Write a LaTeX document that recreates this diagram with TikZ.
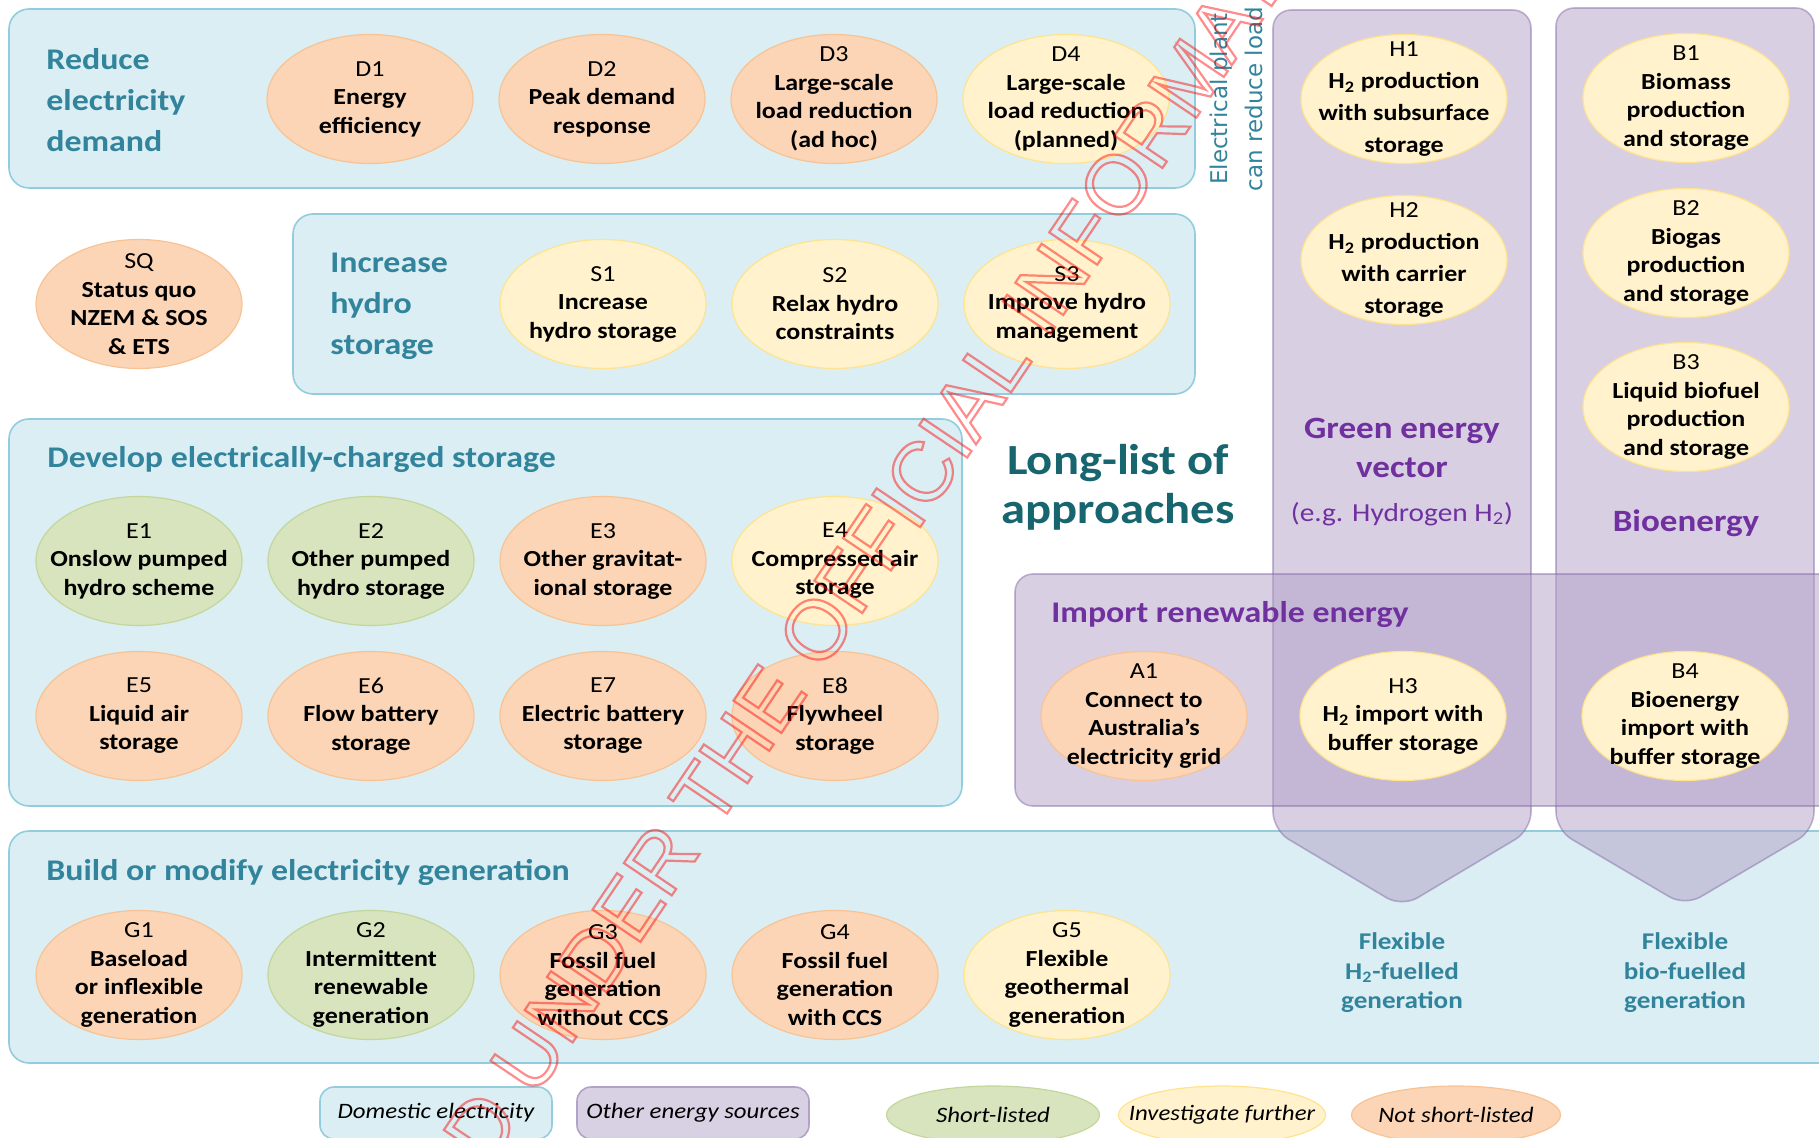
\documentclass[tikz,border=0pt]{standalone}
\usepackage{fontspec}
\setmainfont{Carlito}[FakeStretch=1.13]
\newfontfamily\plantfont{DejaVu Sans}
\newfontfamily\stampfont{Liberation Sans}
\usepackage{tikz}
\usetikzlibrary{shapes.geometric}
\definecolor{domfill}{HTML}{DAEEF3}
\definecolor{domline}{HTML}{93CDDD}
\definecolor{othfill}{HTML}{B1A0C7}
\definecolor{othline}{HTML}{8064A2}
\definecolor{othkey}{HTML}{D8D0E3}
\definecolor{othkeyline}{HTML}{B3A2C7}
\definecolor{headteal}{HTML}{31849B}
\definecolor{darkteal}{HTML}{17656F}
\definecolor{purpletxt}{HTML}{7030A0}
\definecolor{peachfill}{HTML}{FBD5B5}
\definecolor{peachline}{HTML}{F8C394}
\definecolor{yellowfill}{HTML}{FFF2CC}
\definecolor{yellowline}{HTML}{FFE38F}
\definecolor{greenfill}{HTML}{D7E4BD}
\definecolor{greenline}{HTML}{C3D69B}
\tikzset{
  elecbox/.style={fill=domfill, draw=domline, line width=0.8pt, rounded corners=10pt},
  otherbox/.style={fill=othfill, draw=othline, fill opacity=0.5, draw opacity=0.45, line width=0.8pt, rounded corners=9pt},
  opt/.style={ellipse, minimum width=103pt, minimum height=64.5pt, inner sep=0pt, line width=0.6pt},
  notsl/.style={opt, fill=peachfill, draw=peachline},
  invest/.style={opt, fill=yellowfill, draw=yellowline},
  shortl/.style={opt, fill=greenfill, draw=greenline},
  optext/.style={align=center, inner sep=0pt, font=\fontsize{11.5}{14.25}\selectfont\bfseries},
  optexth/.style={optext, font=\fontsize{11.5}{16}\selectfont\bfseries},
  hdr/.style={anchor=west, align=left, inner sep=0pt, text=headteal, font=\fontsize{15}{20.5}\selectfont\bfseries},
  vechdr/.style={align=center, inner sep=0pt, text=purpletxt, font=\fontsize{15.5}{19.5}\selectfont\bfseries},
  flexgen/.style={align=center, inner sep=0pt, text=headteal, font=\fontsize{12}{14.75}\selectfont\bfseries},
  keytext/.style={inner sep=0pt, font=\fontsize{11}{13}\selectfont\itshape},
  keybox/.style={minimum width=116pt, minimum height=26pt, inner sep=0pt, line width=0.8pt, rounded corners=7pt, font=\fontsize{11}{13}\selectfont\itshape}
}
\begin{document}
\begin{tikzpicture}[x=0.5pt, y=-0.5pt]
  \useasboundingbox (0,0) rectangle (1819,1138);
  \clip (0,0) rectangle (1819,1138);
  \draw[elecbox] (9,9) rectangle (1195,188);
  \draw[elecbox] (293,214) rectangle (1195,394);
  \draw[elecbox] (9,419) rectangle (962,806);
  \draw[elecbox] (9,831) rectangle (1860,1063);
  \draw[otherbox] (1273,830) -- (1273,10) -- (1531,10) -- (1531,830) -- (1402,907) -- cycle;
  \draw[otherbox] (1556,830) -- (1556,8) -- (1814,8) -- (1814,830) -- (1685,906) -- cycle;
  \draw[otherbox] (1015,574) rectangle (1860,806);

  \node[hdr] (reduce) at (46,100) {Reduce\\electricity\\demand};
  \node[hdr] (hydro) at (330,306) {Increase\\hydro\\storage};
  \node[hdr] (develop) at (47,460) {Develop electrically-charged storage};
  \node[hdr] (build) at (46,872) {Build or modify electricity generation};
  \node[hdr, text=purpletxt] (import) at (1051,615) {Import renewable energy};
  \node[align=center, inner sep=0pt, text=darkteal, font=\fontsize{21.5}{24.5}\selectfont\bfseries] (longlist) at (1118,487) {Long-list of\\approaches};
  \node[rotate=90, align=center, inner sep=0pt, text=headteal, font=\plantfont\fontsize{11.5}{17.5}\selectfont] (plant) at (1236,99) {Electrical plant\\can reduce load};
  \node[vechdr] (vector) at (1402,448) {Green energy\\vector};
  \node[inner sep=0pt, text=purpletxt, font=\fontsize{13}{15}\selectfont] (example) at (1402,514) {(e.g. Hydrogen H\textsubscript{2})};
  \node[vechdr] (bioenergy) at (1686,523) {Bioenergy};
  \node[flexgen] (flexh) at (1402,973) {Flexible\\H\textsubscript{2}-fuelled\\generation};
  \node[flexgen] (flexb) at (1685,973) {Flexible\\bio-fuelled\\generation};

  \node[notsl, label={[optext]center:{\mdseries D1}\\Energy\\efficiency}] (D1) at (370,99) {};
  \node[notsl, label={[optext]center:{\mdseries D2}\\Peak demand\\response}] (D2) at (602,99) {};
  \node[notsl, label={[optext]center:{\mdseries D3}\\Large-scale\\load reduction\\(ad hoc)}] (D3) at (834,99) {};
  \node[invest, label={[optext]center:{\mdseries D4}\\Large-scale\\load reduction\\(planned)}] (D4) at (1066,99) {};
  \node[notsl, label={[optext]center:{\mdseries SQ}\\Status quo\\NZEM \& SOS\\\& ETS}] (SQ) at (139,304) {};
  \node[invest, label={[optext]center:{\mdseries S1}\\Increase\\hydro storage}] (S1) at (603,304) {};
  \node[invest, label={[optext]center:{\mdseries S2}\\Relax hydro\\constraints}] (S2) at (835,304) {};
  \node[invest, label={[optext]center:{\mdseries S3}\\Improve hydro\\management}] (S3) at (1067,304) {};

  \node[shortl, label={[optext]center:{\mdseries E1}\\Onslow pumped\\hydro scheme}] (E1) at (139,561) {};
  \node[shortl, label={[optext]center:{\mdseries E2}\\Other pumped\\hydro storage}] (E2) at (371,561) {};
  \node[notsl, label={[optext]center:{\mdseries E3}\\Other gravitat-\\ional storage}] (E3) at (603,561) {};
  \node[invest, label={[optext]center:{\mdseries E4}\\Compressed air\\storage}] (E4) at (835,561) {};
  \node[notsl, label={[optext]center:{\mdseries E5}\\Liquid air\\storage}] (E5) at (139,716) {};
  \node[notsl, label={[optext]center:{\mdseries E6}\\Flow battery\\storage}] (E6) at (371,716) {};
  \node[notsl, label={[optext]center:{\mdseries E7}\\Electric battery\\storage}] (E7) at (603,716) {};
  \node[notsl, label={[optext]center:{\mdseries E8}\\Flywheel\\storage}] (E8) at (835,716) {};

  \node[notsl, label={[optext]center:{\mdseries G1}\\Baseload\\or inflexible\\generation}] (G1) at (139,975) {};
  \node[shortl, label={[optext]center:{\mdseries G2}\\Intermittent\\renewable\\generation}] (G2) at (371,975) {};
  \node[notsl, label={[optext]center:{\mdseries G3}\\Fossil fuel\\generation\\without CCS}] (G3) at (603,975) {};
  \node[notsl, label={[optext]center:{\mdseries G4}\\Fossil fuel\\generation\\with CCS}] (G4) at (835,975) {};
  \node[invest, label={[optext]center:{\mdseries G5}\\Flexible\\geothermal\\generation}] (G5) at (1067,975) {};

  \node[invest, label={[optexth]center:{\mdseries H1}\\H\textsubscript{2} production\\with subsurface\\storage}] (H1) at (1404,99) {};
  \node[invest, label={[optexth]center:{\mdseries H2}\\H\textsubscript{2} production\\with carrier\\storage}] (H2) at (1404,260) {};
  \node[invest, label={[optext]center:{\mdseries B1}\\Biomass\\production\\and storage}] (B1) at (1686,98) {};
  \node[invest, label={[optext]center:{\mdseries B2}\\Biogas\\production\\and storage}] (B2) at (1686,253) {};
  \node[invest, label={[optext]center:{\mdseries B3}\\Liquid biofuel\\production\\and storage}] (B3) at (1686,407) {};
  \node[notsl, label={[optext]center:{\mdseries A1}\\Connect to\\Australia’s\\electricity grid}] (A1) at (1144,716) {};
  \node[invest, label={[optext]center:{\mdseries H3}\\H\textsubscript{2} import with\\buffer storage}] (H3) at (1403,716) {};
  \node[invest, label={[optext]center:{\mdseries B4}\\Bioenergy\\import with\\buffer storage}] (B4) at (1685,716) {};

  \node[keybox, fill=domfill, draw=domline] (keydom) at (436,1113) {Domestic electricity};
  \node[keybox, fill=othkey, draw=othkeyline] (keyoth) at (693,1113) {Other energy sources};
  \node[shortl, minimum width=106.5pt, minimum height=29pt, label={[keytext]center:Short-listed}] (keyshort) at (993,1115) {};
  \node[invest, minimum width=103.5pt, minimum height=29pt, label={[keytext]center:Investigate further}] (keyinv) at (1222,1115) {};
  \node[notsl, minimum width=104.5pt, minimum height=29pt, label={[keytext]center:Not short-listed}] (keynot) at (1456,1115) {};

  \node[rotate=56, inner sep=0pt, opacity=0.45, text=red, font=\stampfont\fontsize{42}{42}\selectfont] (stamp) at (851,578) {\special{pdf:literal direct 1 Tr 1.1 w}RELEASED UNDER THE OFFICIAL INFORMATION ACT\special{pdf:literal direct 0 Tr}};
\end{tikzpicture}
\end{document}
